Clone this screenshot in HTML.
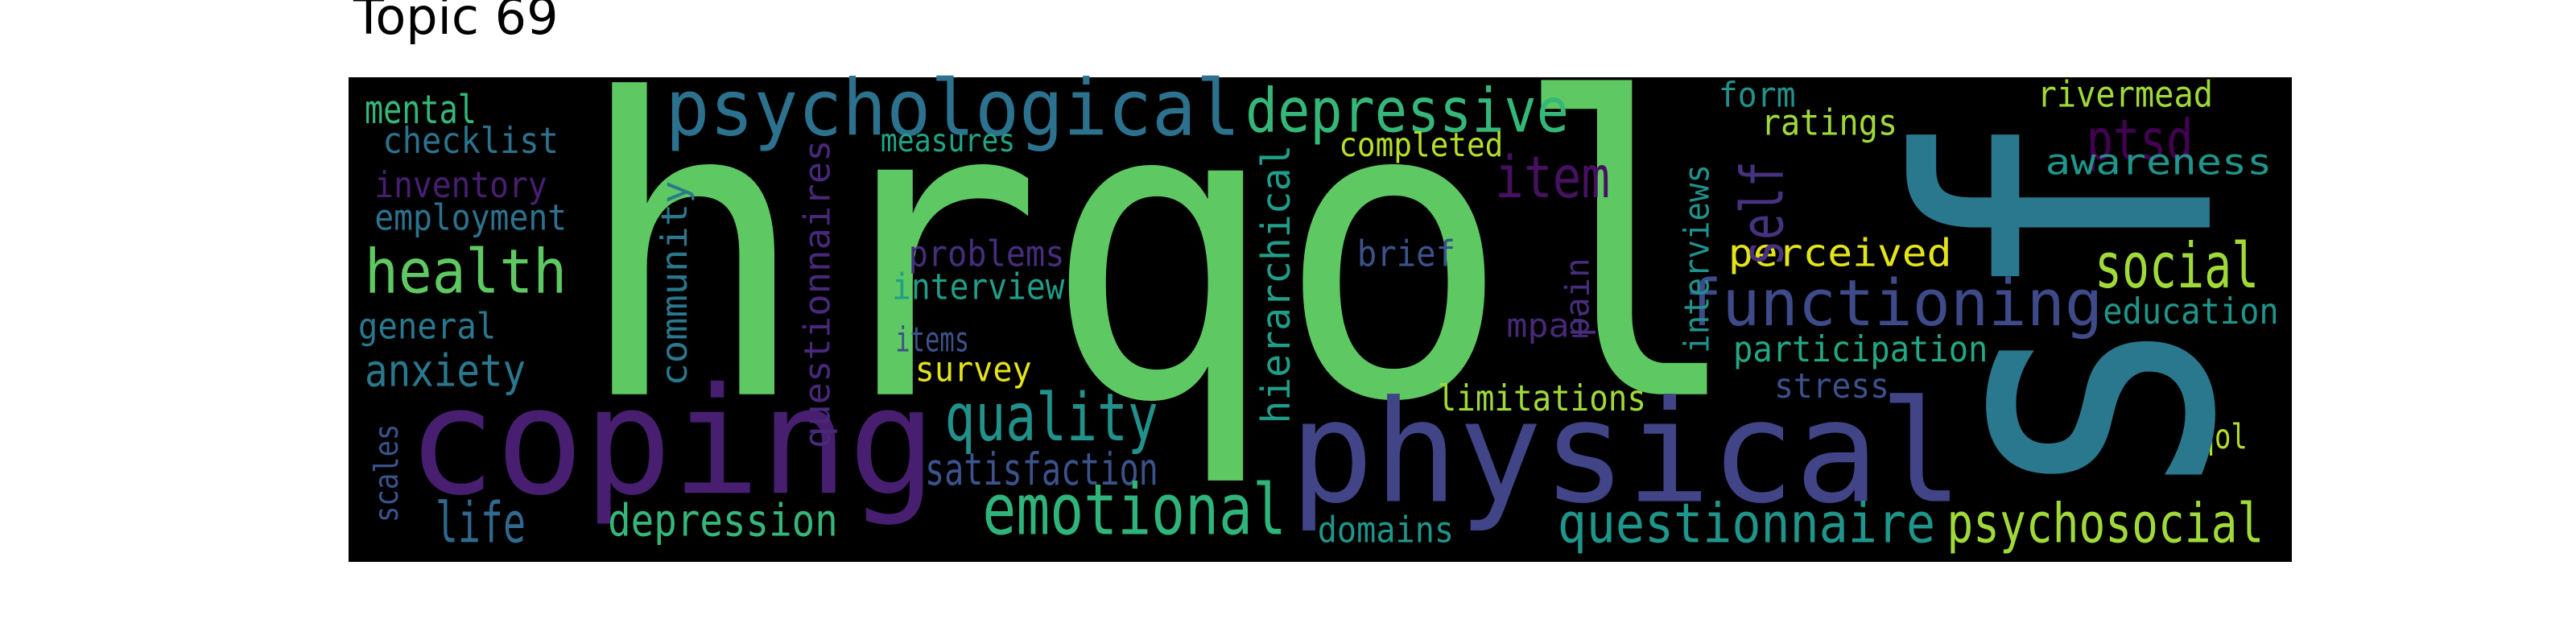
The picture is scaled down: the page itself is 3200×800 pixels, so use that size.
<!DOCTYPE html>
<html><head><meta charset="utf-8"><style>
html,body{margin:0;padding:0;background:#fff;width:3200px;height:800px;overflow:hidden}
svg{display:block}
text{font-family:"DejaVu Sans Mono","Liberation Mono",monospace}
#title{font-family:"DejaVu Sans","Liberation Sans",sans-serif}
</style></head><body>
<svg id="chart" width="3200" height="800" viewBox="0 0 3200 800" xmlns="http://www.w3.org/2000/svg">
<text id="title" x="439" y="42" font-size="62" fill="#000">Topic 69</text>
<rect x="433" y="96" width="2414" height="602" fill="#000"/>
<g id="words"></g>
</svg>
<script>
// word, left x, baseline y, width, font size (reference display units), colour
const words = ["hrqol","psychological","depressive","coping","physical","mental","checklist","inventory","employment","health","general","anxiety","life","depression","measures","problems","interview","items","survey","quality","satisfaction","emotional","item","completed","form","ratings","rivermead","ptsd","awareness","social","functioning","education","participation","perceived","brief","mpai","limitations","stress","qol","domains","questionnaire","psychosocial"];
const xs = [350,405,758,248,785,222,233,228,228,222,218,222,265,370,536,553,543,545,557,575,563,598,910,815,1046,1072,1240,1270,1245,1275,1025,1280,1055,1052,826,917,875,1080,1338,802,948,1185];
const ys = [240,82,80,300,305,75,93,120,140,178,206,235,330,326,92,162,182,214,232,268,295,325,120,95,65,82,65,97,106,175,198,197,220,162,162,205,250,242,273,330,330,330];
const ws = [712,350,197,322,410,68,107,105,117,123,84,98,55,140,82,95,105,45,71,130,142,185,70,100,47,83,107,65,138,100,255,107,155,136,60,51,127,70,30,83,230,193];
const fss = [250,47,37,90,86,24,22,22,22,37,22,27,34,27,19,22,22,21,21,40,27,43,35,20,21,22,22,34,22,38,39,22,22,23,22,20,22,21,21,22,33,33];
const cols = ["#5ec962","#2c728e","#35b779","#481f70","#414487","#35b779","#2c728e","#481f70","#2c728e","#5ec962","#2a788e","#2a788e","#31688e","#35b779","#20a486","#472d7b","#1f9e89","#3b528b","#e5e419","#21918c","#3b528b","#2fb47c","#471063","#b5de2b","#21918c","#a0da39","#a0da39","#440154","#1f968b","#a0da39","#3e4a89","#1f968b","#22a884","#e5e419","#3b528b","#482878","#a0da39","#3b528b","#b5de2b","#1f968b","#1f968b","#a0da39"];
// vertical words (read bottom to top): baseline x, bottom y, length, font size
const vWords = ["sf","community","questionnaires","hierarchical","self","pain","interviews","scales"];
const vXs = [1345,418,505,785,1085,967,1040,242];
const vYs = [310,235,273,258,162,205,215,318];
const vLens = [245,125,188,170,64,48,115,60];
const vFss = [243,22,22,24,36,20,21,20];
const vCols = ["#2a788e","#2a788e","#482878","#1f9e89","#46327e","#472d7b","#21918c","#3b528b"];

const S = 3200/1568;
const NS = "http://www.w3.org/2000/svg";
const g = document.getElementById("words");
words.forEach((w,i)=>{
  const t = document.createElementNS(NS,"text");
  t.setAttribute("x", xs[i]*S);
  t.setAttribute("y", ys[i]*S);
  t.setAttribute("font-size", fss[i]*S);
  t.setAttribute("textLength", ws[i]*S);
  t.setAttribute("lengthAdjust", "spacingAndGlyphs");
  t.setAttribute("fill", cols[i]);
  t.textContent = w;
  
  
  g.appendChild(t);
});
vWords.forEach((w,i)=>{
  const t = document.createElementNS(NS,"text");
  t.setAttribute("transform", "translate(" + (vXs[i]*S) + "," + (vYs[i]*S) + ") rotate(-90)");
  t.setAttribute("x", 0);
  t.setAttribute("y", 0);
  t.setAttribute("font-size", vFss[i]*S);
  t.setAttribute("textLength", vLens[i]*S);
  t.setAttribute("lengthAdjust", "spacingAndGlyphs");
  t.setAttribute("fill", vCols[i]);
  t.textContent = w;
  
  
  g.appendChild(t);
});
</script>
</body></html>
